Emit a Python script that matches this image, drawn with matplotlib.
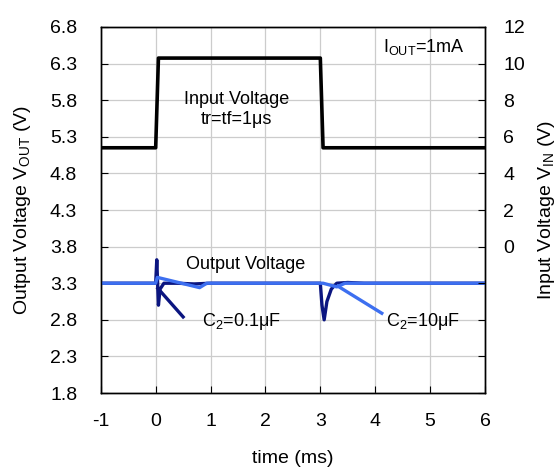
import matplotlib.pyplot as plt
import numpy as np

plt.rcParams['font.family'] = ['Liberation Sans', 'DejaVu Sans']
plt.rcParams['mathtext.fontset'] = 'custom'
plt.rcParams['mathtext.rm'] = 'Liberation Sans'
plt.rcParams['axes.unicode_minus'] = False

# input voltage step (right axis, V)
t_in = [-1, 0.0, 0.05, 3.0, 3.05, 6]
v_in = [5.4, 5.4, 10.3, 10.3, 5.4, 5.4]

# output voltage, C2 = 0.1uF
t_c01 = [-1, 0.0, 0.02, 0.05, 0.08, 0.15, 0.4, 0.7, 1.0, 3.0, 3.03, 3.07, 3.12, 3.2, 3.3, 3.5, 3.8, 6]
v_c01 = [3.3, 3.3, 3.62, 3.0, 3.22, 3.3, 3.3, 3.29, 3.3, 3.3, 3.0, 2.80, 3.05, 3.22, 3.3, 3.31, 3.3, 3.3]

# output voltage, C2 = 10uF
t_c10 = [-1, 0.0, 0.03, 0.8, 0.93, 3.0, 3.05, 3.3, 3.45, 6]
v_c10 = [3.3, 3.3, 3.38, 3.24, 3.3, 3.3, 3.3, 3.25, 3.3, 3.3]

navy = '#0b1580'
lblue = '#3d6ff0'
fs = 14
fa = 13

fig = plt.figure(figsize=(5.6, 4.73), dpi=100)
ax = fig.add_axes([0.180, 0.169, 0.686, 0.774])
ax2 = ax.twinx()

ax.plot(t_c01, v_c01, color=navy, lw=2.4, zorder=3)
ax.plot(t_c10, v_c10, color=lblue, lw=2.4, zorder=4)
# leader lines
ax.plot([0.04, 0.50], [3.23, 2.84], color=navy, lw=2.4, zorder=3)
ax.plot([3.32, 4.12], [3.26, 2.89], color=lblue, lw=2.4, zorder=4)

ax2.plot(t_in, v_in, color='black', lw=2.6)

ax.set_xlim(-1, 6)
ax.set_ylim(1.8, 6.8)
ax2.set_ylim(-8, 12)
ax.set_xticks(range(-1, 7))
ax.set_yticks(np.arange(1.8, 6.81, 0.5))
ax.set_yticklabels([f'{v:.1f}' for v in np.arange(1.8, 6.81, 0.5)])
r_ticks = list(range(-8, 13, 2))
ax2.set_yticks(r_ticks)
ax2.set_yticklabels([str(v) if v >= 0 else '' for v in r_ticks])

ax.grid(True, color='#cccccc', lw=0.9)
ax.set_axisbelow(True)
ax.tick_params(axis='y', direction='in', length=5, pad=17, labelsize=fs)
ax.tick_params(axis='x', direction='in', length=5, pad=14, labelsize=fs)
ax2.tick_params(axis='y', direction='in', length=5, pad=13, labelsize=fs)
for a in (ax, ax2):
    for s in a.spines.values():
        s.set_linewidth(1.0)

ax.set_xlabel('time (ms)', fontsize=fs, labelpad=15)
ax.set_ylabel(r'Output Voltage V$_{\rm OUT}$ (V)', fontsize=fs, labelpad=12)
ax2.set_ylabel(r'Input Voltage V$_{\rm IN}$ (V)', fontsize=fs, labelpad=8)

ax.text(1.48, 5.81, 'Input Voltage', ha='center', va='center', fontsize=fa)
ax.text(1.48, 5.54, 'tr=tf=1μs', ha='center', va='center', fontsize=fa)
ax.text(1.63, 3.55, 'Output Voltage', ha='center', va='center', fontsize=fa)
ax.text(0.84, 2.78, r'C$_{\rm 2}$=0.1μF', ha='left', va='center', fontsize=fa)
ax.text(4.20, 2.78, r'C$_{\rm 2}$=10μF', ha='left', va='center', fontsize=fa)
ax.text(4.14, 6.53, r'I$_{\rm OUT}$=1mA', ha='left', va='center', fontsize=fa)

fig.savefig('out.png', dpi=100)
